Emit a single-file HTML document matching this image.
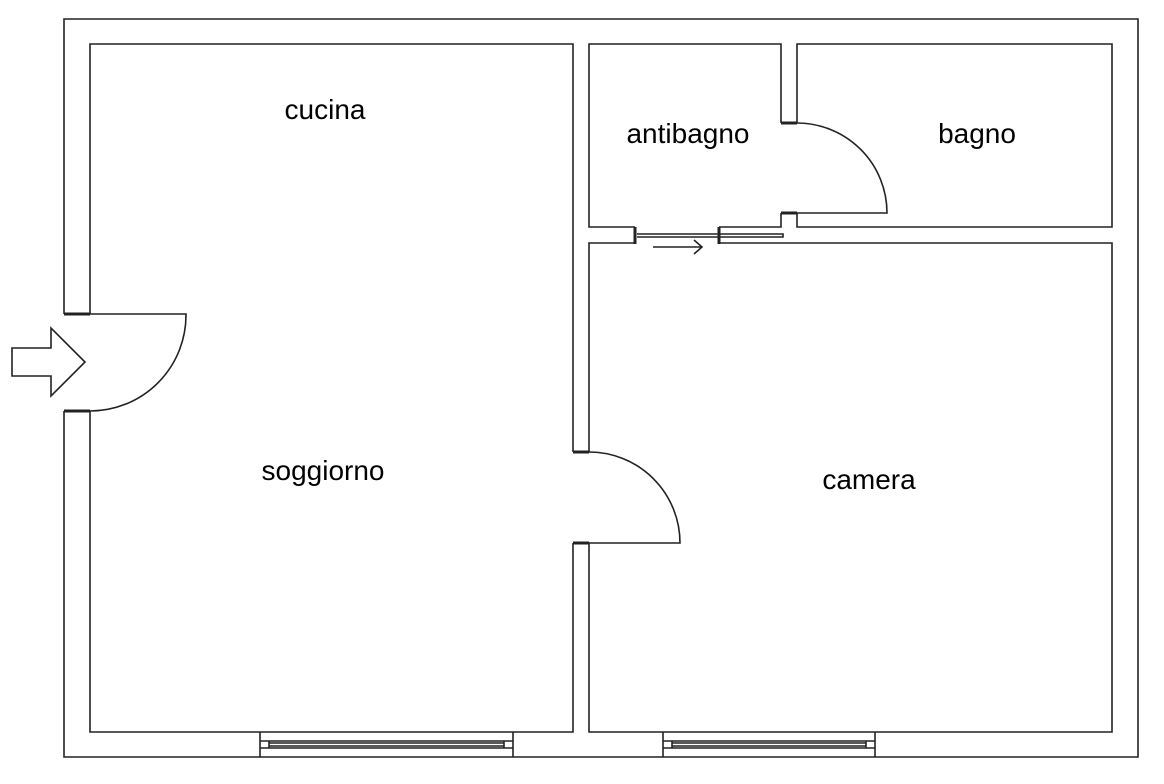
<!DOCTYPE html>
<html><head><meta charset="utf-8"><style>
html,body{margin:0;padding:0;background:#fff;}
svg{display:block;}
text{font-family:"Liberation Sans",sans-serif;font-size:28px;fill:#000;}
</style></head><body>
<svg width="1164" height="784" viewBox="0 0 1164 784" xmlns="http://www.w3.org/2000/svg">
<g stroke="#222" stroke-width="1.6" fill="none">
<path d="M64 314 V19 H1138 V757 H64 V411"/>
<path d="M90 314 V44 H573 V452 M573 543 V732 H90 V411"/>
<path d="M781 123 V44 H589 V227 H635 M719 227 H781 V213"/>
<path d="M797 123 V44 H1112 V227 H797 V213"/>
<path d="M635 243 H589 V452 M589 543 V732 H1112 V243 H719"/>
<path d="M573 452 H589 M573 543 H589"/>
</g>
<g stroke="#222" stroke-width="3" fill="none">
<path d="M64 314 H90 M64 411 H90"/>
<path d="M573 452 H589 M573 543 H589"/>
<path d="M781 123 H797 M781 213 H797"/>
<path d="M635 227 V244 M719 227 V244"/>
</g>
<g stroke="#222" stroke-width="1.6" fill="none">
<path d="M90 314 H186 A96 96 0 0 1 90 411"/>
<path d="M589 452 A91 91 0 0 1 680 543 H589"/>
<path d="M797 123 A90 90 0 0 1 887 213 H797"/>
<path d="M637 234 H719 M637 237 H719 M719 234 H783 V237 H719"/>
<path d="M653 247 H702 M694 240 L702 247 L694 254"/>
<path d="M12 348 H51 V328 L85 362 L51 396 V376 H12 Z"/>
<path d="M260 732 V757 M513 732 V757 M260 741 H513 M260 748 H513 M269 741 V748 M504 741 V748 M269 743 H504 M269 746 H504"/>
<path d="M663 732 V757 M875 732 V757 M663 741 H875 M663 748 H875 M672 741 V748 M866 741 V748 M672 743 H866 M672 746 H866"/>
</g>
<text x="325" y="119" text-anchor="middle">cucina</text>
<text x="688" y="143" text-anchor="middle">antibagno</text>
<text x="977" y="143" text-anchor="middle">bagno</text>
<text x="323" y="480" text-anchor="middle">soggiorno</text>
<text x="869" y="489" text-anchor="middle">camera</text>
</svg>
</body></html>
